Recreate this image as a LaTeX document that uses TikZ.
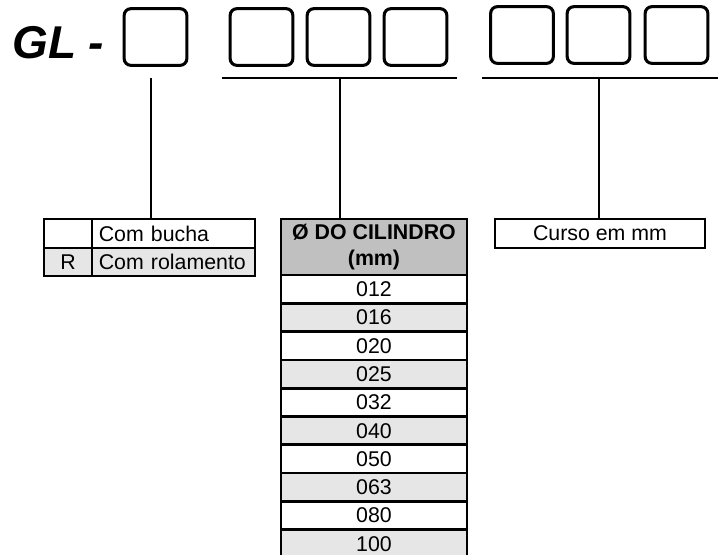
\documentclass[tikz,border=0pt]{standalone}
\usepackage{fontspec}
\setmainfont{Liberation Sans}
\definecolor{hdr}{HTML}{C0C0C0}
\definecolor{lite}{HTML}{E6E6E6}
\begin{document}
\begin{tikzpicture}[x=0.75pt,y=-0.75pt,
  slot/.style={draw,line width=2.3pt,rounded corners=5pt,minimum width=47pt,minimum height=42.5pt,inner sep=0pt},
  cell/.style={draw,line width=2pt,inner sep=0pt,font=\fontsize{16}{18}\selectfont},
  conn/.style={line width=1.6pt},
  ]
\useasboundingbox (0,0) rectangle (718,554);
% title
\node[anchor=base west,inner sep=0pt,font=\fontsize{34.5}{40}\selectfont\bfseries\itshape] (gl) at (12,58) {GL -};
% slots
\node[slot] (b1) at (155.5,37) {};
\node[slot] (b2) at (261.5,37) {};
\node[slot] (b3) at (338.5,37) {};
\node[slot] (b4) at (415.5,37) {};
\node[slot] (b5) at (522,35) {};
\node[slot] (b6) at (598.5,35) {};
\node[slot] (b7) at (676.5,35) {};
% underlines
\coordinate (u1a) at (222,78);
\coordinate (u1b) at (457,78);
\coordinate (u2a) at (482,78);
\coordinate (u2b) at (718,78);
\draw[conn] (u1a) -- (u1b);
\draw[conn] (u2a) -- (u2b);
\coordinate (v1) at (151,78);
\coordinate (v2) at (340,78);
\coordinate (v3) at (599,78);
% left table
\node[cell,minimum width=36pt,minimum height=21.75pt] (la) at (68,233.5) {};
\node[cell,minimum width=122.25pt,minimum height=21.75pt,text width=112pt,align=left] (lb) at (173.5,233.5) {Com bucha};
\node[cell,fill=lite,minimum width=36pt,minimum height=21pt] (ra) at (68,262) {R};
\node[cell,fill=lite,minimum width=122.25pt,minimum height=21pt,text width=112pt,align=left] (rb) at (173.5,262) {Com rolamento};
% center table
\node[cell,fill=hdr,minimum width=139.5pt,minimum height=42pt,align=center,font=\fontsize{16}{19.5}\selectfont\bfseries] (hd) at (374,247) {Ø DO CILINDRO\\(mm)};
\foreach \t [count=\i] in {012,016,020,025,032,040,050,063,080,100}{
  \pgfmathsetmacro{\yy}{275+28.3*(\i-0.5)}
  \ifodd\i
    \node[cell,fill=white,minimum width=139.5pt,minimum height=21.2pt] (r\i) at (374,\yy) {\t};
  \else
    \node[cell,fill=lite,minimum width=139.5pt,minimum height=21.2pt] (r\i) at (374,\yy) {\t};
  \fi
}
% right box
\node[cell,minimum width=157.5pt,minimum height=21.75pt] (cu) at (600,233.5) {Curso em mm};
% connectors
\draw[conn] (v1) -- (v1 |- la.north east);
\draw[conn] (v2) -- (v2 |- hd.north);
\draw[conn] (v3) -- (v3 |- cu.north);
\end{tikzpicture}
\end{document}
